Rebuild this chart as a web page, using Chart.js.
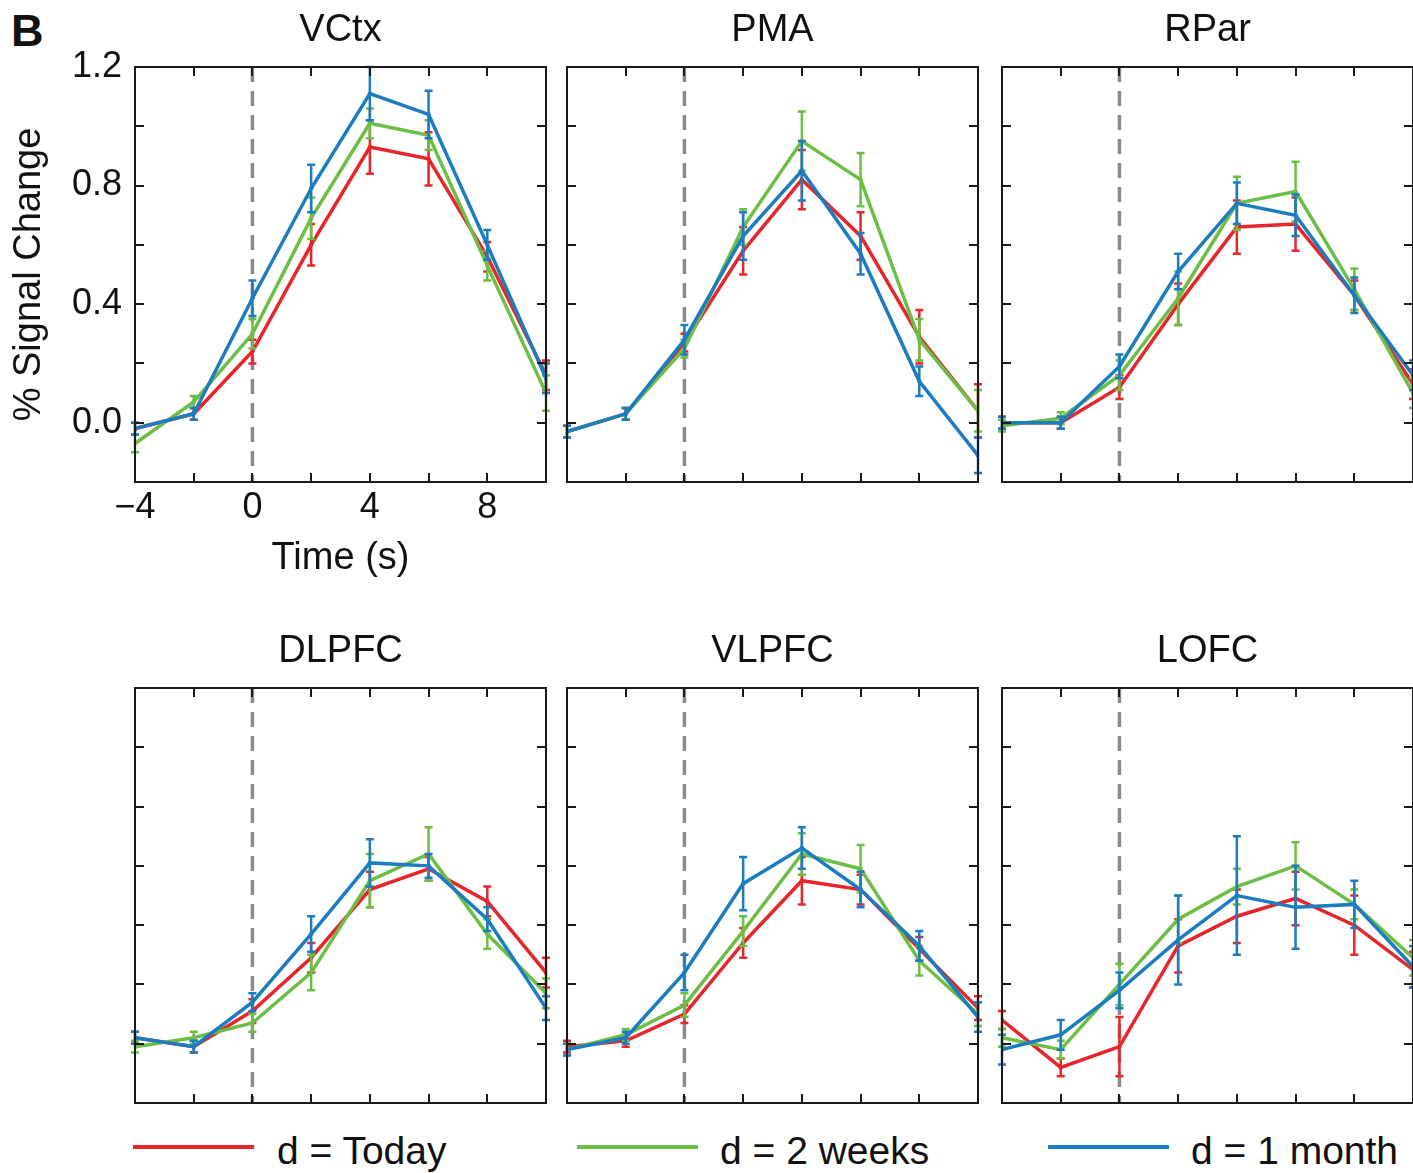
<!DOCTYPE html>
<html>
<head>
<meta charset="utf-8">
<script src="https://cdn.jsdelivr.net/npm/chart.js@4.4.0/dist/chart.umd.min.js"></script>
<style>
  body { margin: 0; width: 1413px; height: 1173px; overflow: hidden; background: #fff; position: relative; font-family: "Liberation Sans", Arial, sans-serif; color: #111; }
  canvas { position: absolute; }
  .lbl { position: absolute; white-space: nowrap; line-height: 1; }
  .key { position: absolute; height: 4px; width: 121px; }
</style>
</head>
<body>
<div class="lbl" style="left:11px;top:8px;font-size:45px;font-weight:bold;">B</div>

<div class="key" style="left:133px;top:1145px;background:#e5262b"></div>
<div class="lbl" style="left:277px;top:1131px;font-size:39px;">d = Today</div>
<div class="key" style="left:577px;top:1145px;background:#6dbe45"></div>
<div class="lbl" style="left:720px;top:1131px;font-size:39px;">d = 2 weeks</div>
<div class="key" style="left:1048px;top:1145px;background:#1c7cc0"></div>
<div class="lbl" style="left:1191px;top:1131px;font-size:39px;">d = 1 month</div>

<script>
// ==================== DATA ====================
const times = [-4, -2, 0, 2, 4, 6, 8, 10];
const regions = ["VCtx", "PMA", "RPar", "DLPFC", "VLPFC", "LOFC"];
const seriesNames = ["d = Today", "d = 2 weeks", "d = 1 month"];
const xTickLabels = [-4, 0, 4, 8];
const yTickLabels = [0.0, 0.4, 0.8, 1.2];

// VCtx
const vctxToday = [-0.02, 0.03, 0.24, 0.60, 0.93, 0.89, 0.56, 0.16];
const vctxTodayErr = [0.02, 0.02, 0.04, 0.07, 0.09, 0.09, 0.05, 0.05];
const vctxWeeks = [-0.07, 0.07, 0.30, 0.69, 1.01, 0.97, 0.53, 0.10];
const vctxWeeksErr = [0.03, 0.02, 0.05, 0.07, 0.05, 0.05, 0.05, 0.06];
const vctxMonth = [-0.02, 0.03, 0.42, 0.79, 1.11, 1.04, 0.60, 0.15];
const vctxMonthErr = [0.02, 0.02, 0.06, 0.08, 0.09, 0.08, 0.05, 0.05];

// PMA
const pmaToday = [-0.03, 0.03, 0.27, 0.58, 0.82, 0.63, 0.29, 0.04];
const pmaTodayErr = [0.02, 0.02, 0.03, 0.08, 0.10, 0.08, 0.09, 0.09];
const pmaWeeks = [-0.03, 0.03, 0.25, 0.66, 0.95, 0.82, 0.28, 0.04];
const pmaWeeksErr = [0.02, 0.02, 0.03, 0.06, 0.10, 0.09, 0.07, 0.07];
const pmaMonth = [-0.03, 0.03, 0.28, 0.63, 0.85, 0.57, 0.14, -0.11];
const pmaMonthErr = [0.02, 0.02, 0.05, 0.08, 0.10, 0.07, 0.05, 0.06];

// RPar
const rparToday = [0.00, 0.00, 0.12, 0.40, 0.66, 0.67, 0.43, 0.13];
const rparTodayErr = [0.02, 0.02, 0.04, 0.07, 0.09, 0.09, 0.05, 0.05];
const rparWeeks = [-0.01, 0.015, 0.16, 0.42, 0.74, 0.78, 0.45, 0.10];
const rparWeeksErr = [0.02, 0.02, 0.05, 0.09, 0.09, 0.10, 0.07, 0.05];
const rparMonth = [0.00, 0.00, 0.19, 0.51, 0.74, 0.70, 0.43, 0.16];
const rparMonthErr = [0.02, 0.02, 0.04, 0.06, 0.07, 0.07, 0.06, 0.05];

// DLPFC
const dlpfcToday = [0.02, -0.01, 0.11, 0.29, 0.52, 0.59, 0.48, 0.24];
const dlpfcTodayErr = [0.02, 0.02, 0.04, 0.05, 0.06, 0.04, 0.05, 0.05];
const dlpfcWeeks = [-0.01, 0.02, 0.07, 0.24, 0.55, 0.64, 0.37, 0.17];
const dlpfcWeeksErr = [0.02, 0.02, 0.03, 0.06, 0.09, 0.09, 0.05, 0.05];
const dlpfcMonth = [0.02, -0.01, 0.14, 0.37, 0.61, 0.60, 0.42, 0.12];
const dlpfcMonthErr = [0.02, 0.02, 0.03, 0.06, 0.08, 0.04, 0.04, 0.04];

// VLPFC
const vlpfcToday = [-0.01, 0.01, 0.10, 0.34, 0.55, 0.52, 0.32, 0.12];
const vlpfcTodayErr = [0.02, 0.02, 0.03, 0.05, 0.08, 0.05, 0.04, 0.04];
const vlpfcWeeks = [-0.02, 0.03, 0.13, 0.38, 0.64, 0.59, 0.28, 0.10];
const vlpfcWeeksErr = [0.02, 0.02, 0.04, 0.05, 0.07, 0.08, 0.05, 0.04];
const vlpfcMonth = [-0.02, 0.02, 0.24, 0.54, 0.66, 0.52, 0.33, 0.09];
const vlpfcMonthErr = [0.02, 0.02, 0.06, 0.09, 0.07, 0.06, 0.05, 0.05];

// LOFC
const lofcToday = [0.08, -0.08, -0.01, 0.33, 0.43, 0.49, 0.40, 0.25];
const lofcTodayErr = [0.03, 0.03, 0.10, 0.09, 0.09, 0.09, 0.10, 0.06];
const lofcWeeks = [0.02, -0.02, 0.20, 0.42, 0.53, 0.60, 0.47, 0.29];
const lofcWeeksErr = [0.03, 0.03, 0.07, 0.08, 0.06, 0.08, 0.05, 0.06];
const lofcMonth = [-0.02, 0.03, 0.18, 0.35, 0.50, 0.46, 0.47, 0.26];
const lofcMonthErr = [0.05, 0.05, 0.06, 0.15, 0.20, 0.14, 0.08, 0.07];

const panelSeries = [
  [[vctxToday, vctxTodayErr], [vctxWeeks, vctxWeeksErr], [vctxMonth, vctxMonthErr]],
  [[pmaToday, pmaTodayErr], [pmaWeeks, pmaWeeksErr], [pmaMonth, pmaMonthErr]],
  [[rparToday, rparTodayErr], [rparWeeks, rparWeeksErr], [rparMonth, rparMonthErr]],
  [[dlpfcToday, dlpfcTodayErr], [dlpfcWeeks, dlpfcWeeksErr], [dlpfcMonth, dlpfcMonthErr]],
  [[vlpfcToday, vlpfcTodayErr], [vlpfcWeeks, vlpfcWeeksErr], [vlpfcMonth, vlpfcMonthErr]],
  [[lofcToday, lofcTodayErr], [lofcWeeks, lofcWeeksErr], [lofcMonth, lofcMonthErr]]
];

// ==================== STYLE / LAYOUT ====================
const COLORS = ["#e5262b", "#6dbe45", "#1c7cc0"];
const FONT = '"Liberation Sans", Arial, sans-serif';
const COL_LEFT = [135, 567, 1002];
const ROW_TOP = [67, 688];
const PLOT_W = 411, PLOT_H = 415;
const TOP_PAD = 67, PAD_R = 12;

Chart.defaults.font.family = FONT;
Chart.defaults.color = "#111";

const near = (a, b) => Math.abs(a - b) < 1e-6;

// box, inward ticks, dashed onset line, error bars
const framePlugin = {
  id: "frame",
  beforeDatasetsDraw(chart) {
    const { ctx, chartArea: a, scales: { x } } = chart;
    const px = x.getPixelForValue(0);
    ctx.save();
    ctx.strokeStyle = "#8a8a8a";
    ctx.lineWidth = 3.5;
    ctx.setLineDash([15, 9]);
    ctx.beginPath();
    ctx.moveTo(px, a.top);
    ctx.lineTo(px, a.bottom);
    ctx.stroke();
    ctx.restore();
  },
  afterDatasetDraw(chart, args) {
    const { ctx, scales: { x, y } } = chart;
    const ds = chart.data.datasets[args.index];
    ctx.save();
    ctx.strokeStyle = ds.borderColor;
    ctx.lineWidth = 2.5;
    ds.data.forEach((p, i) => {
      const e = ds.err[i];
      const px = x.getPixelForValue(p.x);
      const y1 = y.getPixelForValue(p.y - e), y2 = y.getPixelForValue(p.y + e);
      ctx.beginPath();
      ctx.moveTo(px, y1); ctx.lineTo(px, y2);
      ctx.moveTo(px - 4, y1); ctx.lineTo(px + 4, y1);
      ctx.moveTo(px - 4, y2); ctx.lineTo(px + 4, y2);
      ctx.stroke();
    });
    ctx.restore();
  },
  afterDraw(chart) {
    const { ctx, chartArea: a, scales: { x, y } } = chart;
    const tl = 9;
    ctx.save();
    ctx.strokeStyle = "#1a1a1a";
    ctx.lineWidth = 2;
    ctx.strokeRect(a.left, a.top, a.right - a.left, a.bottom - a.top);
    ctx.beginPath();
    x.ticks.forEach(t => {
      const px = Math.round(x.getPixelForValue(t.value));
      ctx.moveTo(px, a.bottom); ctx.lineTo(px, a.bottom - tl);
      ctx.moveTo(px, a.top); ctx.lineTo(px, a.top + tl);
    });
    y.ticks.forEach(t => {
      const py = Math.round(y.getPixelForValue(t.value));
      ctx.moveTo(a.left, py); ctx.lineTo(a.left + tl, py);
      ctx.moveTo(a.right, py); ctx.lineTo(a.right - tl, py);
    });
    ctx.stroke();
    ctx.restore();
  }
};

// ==================== PANELS ====================
regions.forEach((name, p) => {
  const col = p % 3, row = Math.floor(p / 3);
  const first = p === 0;
  const padL = first ? 135 : 15;
  const padB = first ? 105 : 15;

  const cv = document.createElement("canvas");
  cv.width = padL + PLOT_W + PAD_R;
  cv.height = TOP_PAD + PLOT_H + padB;
  cv.style.left = (COL_LEFT[col] - padL) + "px";
  cv.style.top = (ROW_TOP[row] - TOP_PAD) + "px";
  document.body.appendChild(cv);

  const datasets = panelSeries[p].map(([vals, errs], s) => ({
    label: seriesNames[s],
    data: times.map((t, i) => ({ x: t, y: vals[i] })),
    err: errs,
    borderColor: COLORS[s],
    backgroundColor: COLORS[s],
    borderWidth: 3.5,
    pointRadius: 2.2,
    pointBorderWidth: 0,
    tension: 0,
    order: 3 - s
  }));

  new Chart(cv, {
    type: "line",
    data: { datasets },
    options: {
      responsive: false,
      animation: false,
      devicePixelRatio: 1,
      layout: { padding: { top: 0, left: 0, right: PAD_R, bottom: 0 } },
      plugins: {
        legend: { display: false },
        tooltip: { enabled: false },
        title: {
          display: true,
          fullSize: false,
          text: name,
          color: "#111",
          font: { size: 38, weight: "normal" },
          padding: { top: 8, bottom: 13.4 }
        }
      },
      scales: {
        x: {
          type: "linear",
          min: -4, max: 10,
          grid: { display: false, drawTicks: false },
          border: { display: false },
          ticks: {
            display: first,
            stepSize: 2,
            autoSkip: false,
            maxRotation: 0,
            padding: 4,
            color: "#111",
            font: { size: 36 },
            callback: v => xTickLabels.some(l => near(l, v)) ? (v < 0 ? "\u2212" + Math.abs(v) : String(v)) : ""
          },
          title: {
            display: first,
            text: "Time (s)",
            color: "#111",
            font: { size: 38 },
            padding: { top: 0, bottom: 6 }
          },
          afterFit: s => { s.height = padB; }
        },
        y: {
          min: -0.2, max: 1.2,
          grid: { display: false, drawTicks: false },
          border: { display: false },
          ticks: {
            display: first,
            stepSize: 0.2,
            autoSkip: false,
            padding: 13,
            color: "#111",
            font: { size: 36 },
            callback: v => yTickLabels.some(l => near(l, v)) ? Math.abs(v).toFixed(1) : ""
          },
          title: {
            display: first,
            text: "% Signal Change",
            color: "#111",
            font: { size: 38 },
            padding: { top: 7, bottom: 0 }
          },
          afterFit: s => { s.width = padL; }
        }
      }
    },
    plugins: [framePlugin]
  });
});
</script>
</body>
</html>
